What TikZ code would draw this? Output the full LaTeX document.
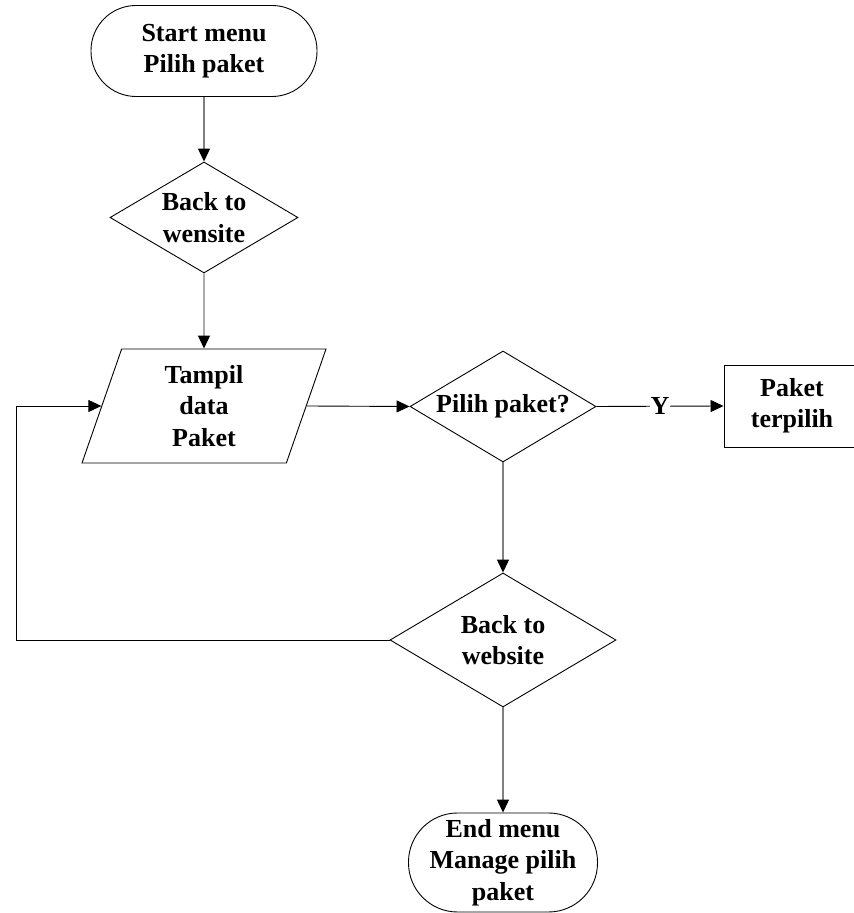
\documentclass[tikz,border=0pt]{standalone}
\usepackage{fontspec}
\setmainfont{Liberation Serif}
\usepackage{tikz}
\usetikzlibrary{arrows.meta,shapes.geometric,positioning,calc}

\begin{document}
\begin{tikzpicture}[x=1pt,y=1pt,
      terminal/.style={rectangle,draw,line width=0.9pt,rounded corners=45pt,
                       align=center,inner sep=0pt,font=\bfseries\fontsize{26}{31.5}\selectfont},
      decision/.style={diamond,aspect=1.69,draw,line width=0.9pt,inner sep=0pt,
                       align=center,font=\bfseries\fontsize{26}{31.5}\selectfont},
      iobox/.style={trapezium,trapezium left angle=64,trapezium right angle=116,
                    trapezium stretches body,draw,line width=0.9pt,inner sep=0pt,
                    align=center,font=\bfseries\fontsize{26}{31.5}\selectfont},
      process/.style={rectangle,draw,line width=0.9pt,inner sep=0pt,
                      align=center,font=\bfseries\fontsize{26}{31.5}\selectfont},
      vline/.style={-{Triangle[length=13pt,width=12pt,color=black]},line width=1.1pt,gray},
      hline/.style={-{Triangle[length=13pt,width=12pt]},line width=0.9pt,black}
    ]
    \useasboundingbox (0,0) rectangle (854,913);

    % Start
    \node[terminal,minimum width=226pt,minimum height=91pt] (start) at (204,862)
      {Start menu\\Pilih paket};

    % First check
    \node[decision,minimum width=188pt,minimum height=111pt] (back1) at (204,695.5)
      {Back to\\wensite};

    % Show data
    \node[iobox,minimum width=244pt,minimum height=114pt] (tampil) at (204,507)
      {Tampil\\data\\Paket};
    \coordinate (tampilL) at ($(tampil.top left corner)!0.5!(tampil.bottom left corner)$);
    \coordinate (tampilR) at ($(tampil.top right corner)!0.5!(tampil.bottom right corner)$);

    % Choose
    \node[decision,minimum width=186pt,minimum height=111pt] (pilih) at (503,506.5)
      {Pilih paket?};
    \node[process,minimum width=136pt,minimum height=82pt] (terpilih) at (792,507)
      {Paket\\terpilih};

    % Second check
    \node[decision,minimum width=226pt,minimum height=134pt] (back2) at (503,273)
      {Back to\\website};

    % End
    \node[terminal,rounded corners=49pt,minimum width=189pt,minimum height=99pt] (end) at (503,50.5)
      {End menu\\Manage pilih\\paket};

    \coordinate (loop) at (16,273);

    % Flow
    \draw[vline] (start) -- (back1);
    \draw[vline] (back1) -- (tampil);
    \draw[hline] (tampilR) -- (pilih.west);
    \draw[hline] (pilih.east) -- node[fill=white,inner sep=1pt,
      font=\bfseries\fontsize{26}{31.5}\selectfont] {Y} (terpilih.west);
    \draw[vline] (pilih) -- (back2);
    \draw[vline] (back2) -- (end);
    \draw[hline] (back2.west) -- (loop) |- (tampilL);

  \end{tikzpicture}
\end{document}
